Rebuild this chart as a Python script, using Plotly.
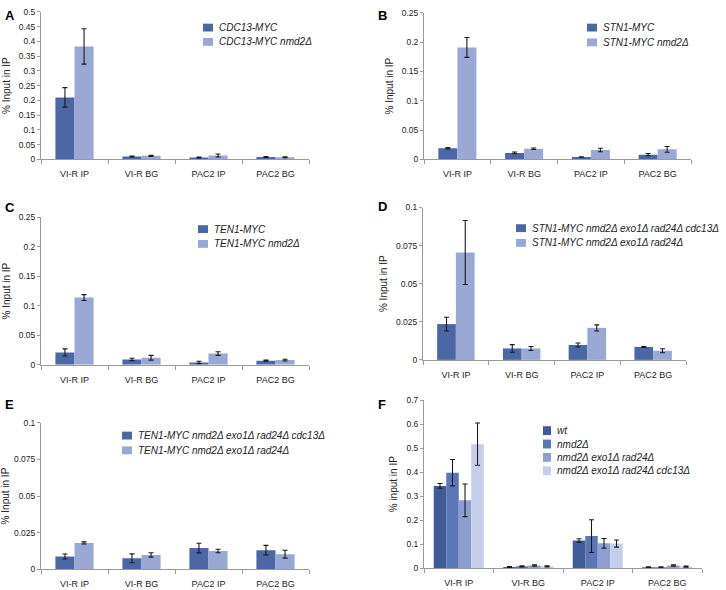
import plotly.graph_objects as go

# data
sites = ["VI-R IP", "VI-R BG", "PAC2 IP", "PAC2 BG"]

# A
a_names = ["CDC13-MYC", "CDC13-MYC nmd2\u0394"]
a_vals = [[0.21, 0.010, 0.006, 0.008], [0.383, 0.012, 0.013, 0.007]]
a_errs = [[0.033, 0.0015, 0.0015, 0.0015], [0.060, 0.0020, 0.0050, 0.0015]]

# B
b_names = ["STN1-MYC", "STN1-MYC nmd2\u0394"]
b_vals = [[0.019, 0.011, 0.004, 0.008], [0.191, 0.018, 0.016, 0.017]]
b_errs = [[0.0012, 0.0015, 0.0005, 0.0020], [0.017, 0.0013, 0.0030, 0.0050]]

# C
c_names = ["TEN1-MYC", "TEN1-MYC nmd2\u0394"]
c_vals = [[0.021, 0.009, 0.004, 0.007], [0.114, 0.012, 0.019, 0.008]]
c_errs = [[0.006, 0.002, 0.002, 0.001], [0.005, 0.004, 0.003, 0.0015]]

# D
d_names = ["STN1-MYC nmd2\u0394 exo1\u0394 rad24\u0394 cdc13\u0394",
           "STN1-MYC nmd2\u0394 exo1\u0394 rad24\u0394"]
d_vals = [[0.0235, 0.0075, 0.0098, 0.0085], [0.0705, 0.0075, 0.021, 0.006]]
d_errs = [[0.0045, 0.0025, 0.0013, 0.0003], [0.021, 0.0013, 0.002, 0.0013]]

# E
e_names = ["TEN1-MYC nmd2\u0394 exo1\u0394 rad24\u0394 cdc13\u0394",
           "TEN1-MYC nmd2\u0394 exo1\u0394 rad24\u0394"]
e_vals = [[0.0087, 0.0075, 0.0145, 0.013], [0.018, 0.0098, 0.0125, 0.0103]]
e_errs = [[0.0017, 0.003, 0.0033, 0.0033], [0.0007, 0.0015, 0.0012, 0.0027]]

# F
f_names = ["wt", "nmd2\u0394", "nmd2\u0394 exo1\u0394 rad24\u0394",
           "nmd2\u0394 exo1\u0394 rad24\u0394 cdc13\u0394"]
f_vals = [[0.343, 0.005, 0.116, 0.004],
          [0.398, 0.008, 0.134, 0.004],
          [0.283, 0.012, 0.104, 0.012],
          [0.517, 0.008, 0.103, 0.007]]
f_errs = [[0.010, 0.002, 0.007, 0.002],
          [0.055, 0.002, 0.068, 0.002],
          [0.068, 0.003, 0.020, 0.003],
          [0.088, 0.002, 0.015, 0.002]]

two_cols = ["#4c67a6", "#9aa8d5"]
four_cols = ["#3f5b98", "#5a76b7", "#8e9ed0", "#c6cde8"]

W, H = 726, 590
FONT = "Liberation Sans, Arial, sans-serif"

# panel boxes in pixels: x0, x1, y_top, y_bottom
# leg = (text x, first row y, row step)
panels = [
    dict(letter="A", names=a_names, vals=a_vals, errs=a_errs, cols=two_cols,
         box=(41, 309, 7, 157), yr=0.5, dt=0.05, title="% Input in IP",
         leg=(218, 23, 14.5), lab=(3, 1)),
    dict(letter="B", names=b_names, vals=b_vals, errs=b_errs, cols=two_cols,
         box=(424, 691, 8, 157), yr=0.25, dt=0.05, title="% Input in IP",
         leg=(602, 23, 15), lab=(376, 1)),
    dict(letter="C", names=c_names, vals=c_vals, errs=c_errs, cols=two_cols,
         box=(41, 309, 216, 366), yr=0.25, dt=0.05, title="% Input in IP",
         leg=(213, 228, 15), lab=(3, 196)),
    dict(letter="D", names=d_names, vals=d_vals, errs=d_errs, cols=two_cols,
         box=(423, 686, 206, 361), yr=0.1, dt=0.025, title="% Input in IP",
         leg=(531, 227, 15), lab=(376, 195)),
    dict(letter="E", names=e_names, vals=e_vals, errs=e_errs, cols=two_cols,
         box=(41, 309, 425, 574), yr=0.1, dt=0.025, title="% Input in IP",
         leg=(137, 438, 15), lab=(3, 397)),
    dict(letter="F", names=f_names, vals=f_vals, errs=f_errs, cols=four_cols,
         box=(424, 702, 402, 573), yr=0.7, dt=0.1, title="% input in IP",
         leg=(556, 433, 13.6), lab=(376, 397)),
]

fig = go.Figure()
layout = {}
annotations = []
shapes = []

for i, p in enumerate(panels):
    n = i + 1
    sfx = "" if n == 1 else str(n)
    k = len(p["names"])
    for j, (name, v, e, c) in enumerate(zip(p["names"], p["vals"], p["errs"], p["cols"])):
        bar = dict(
            x=sites, y=v, name=name, showlegend=False,
            marker=dict(color=c, line=dict(width=0)),
            error_y=dict(type="data", array=e, color="#1a1a1a",
                         thickness=1.1, width=2.5),
            xaxis="x" + sfx, yaxis="y" + sfx,
        )
        if k == 4:
            bar["width"] = 0.18
            bar["offset"] = -0.36 + j * 0.18
        fig.add_trace(go.Bar(**bar))

        # legend entry
        tx, ty, step = p["leg"]
        yy = ty + j * step
        sw, sh = (8, 9) if k == 4 else (10, 8)
        shapes.append(dict(
            type="rect", xref="paper", yref="paper",
            x0=(tx - 5 - sw) / W, x1=(tx - 5) / W,
            y0=1 - (yy + sh / 2) / H, y1=1 - (yy - sh / 2) / H,
            fillcolor=c, line=dict(width=0),
        ))
        annotations.append(dict(
            text="<i>" + name + "</i>", xref="paper", yref="paper",
            x=tx / W, y=1 - yy / H, xanchor="left", yanchor="middle",
            showarrow=False, font=dict(size=10, color="#222"), borderpad=0,
        ))

    x0, x1, yt, yb = p["box"]
    layout["xaxis" + sfx] = dict(
        domain=[x0 / W, x1 / W], anchor="y" + sfx, type="category",
        showline=True, linecolor="#9a9a9a", linewidth=1,
        ticks="outside", tickson="boundaries", ticklen=4, tickcolor="#9a9a9a",
        tickfont=dict(size=9, color="#222"), showgrid=False,
        ticklabelstandoff=6,
    )
    layout["yaxis" + sfx] = dict(
        domain=[1 - yb / H, 1 - yt / H], anchor="x" + sfx,
        range=[0, p["yr"]], dtick=p["dt"], tick0=0,
        showline=True, linecolor="#9a9a9a", linewidth=1,
        ticks="outside", ticklen=3, tickcolor="#9a9a9a",
        tickfont=dict(size=8.5, color="#222"), showgrid=False, zeroline=False,
        title=dict(text=p["title"], font=dict(size=10, color="#222"), standoff=6),
    )
    annotations.append(dict(
        text="<b>" + p["letter"] + "</b>", xref="paper", yref="paper",
        x=p["lab"][0] / W, y=1 - p["lab"][1] / H, xanchor="left", yanchor="top",
        showarrow=False, font=dict(size=13, color="black"),
    ))

fig.update_layout(**layout)
fig.update_layout(
    width=W, height=H, margin=dict(l=0, r=0, t=0, b=0),
    paper_bgcolor="white", plot_bgcolor="white", showlegend=False,
    font=dict(family=FONT), barmode="group", bargap=0.43, bargroupgap=0,
    annotations=annotations, shapes=shapes,
)
# the page body has an 8px default margin; drop it so the figure sits at 0,0
fig.write_html("out.html", config={"displayModeBar": False},
               post_script="document.body.style.margin='0';")
